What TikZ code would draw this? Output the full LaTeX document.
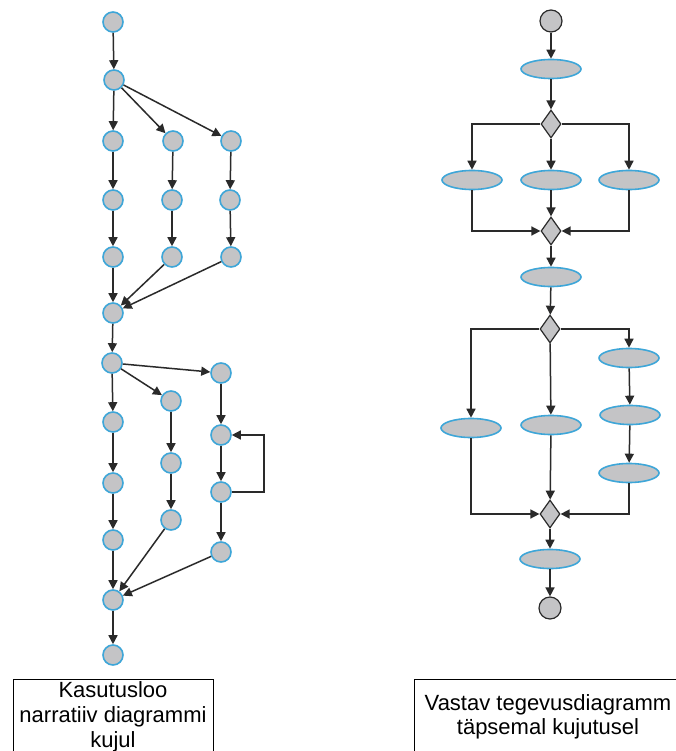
\documentclass[tikz,border=0pt]{standalone}
\usepackage{fontspec}
\setmainfont{Liberation Sans}
\usetikzlibrary{arrows.meta,shapes.geometric}

\definecolor{nodefill}{HTML}{C4C4C6}
\definecolor{nodeblue}{HTML}{3EA6D8}
\definecolor{edgegray}{HTML}{2A2A2A}

\tikzset{
    story/.style={circle, draw=nodeblue, fill=nodefill, line width=1.6pt, minimum size=20pt, inner sep=0pt},
    activity/.style={ellipse, draw=nodeblue, fill=nodefill, line width=1.6pt, minimum width=60pt, minimum height=19pt, inner sep=0pt},
    decision/.style={diamond, draw=edgegray, fill=nodefill, line width=1.2pt, minimum width=20pt, minimum height=28pt, inner sep=0pt},
    terminal/.style={circle, draw=edgegray, fill=nodefill, line width=1.2pt, minimum size=22pt, inner sep=0pt},
    flow/.style={-{Triangle[length=9pt,width=9pt]}, draw=edgegray, line width=1.5pt},
    caption/.style={align=center, inner sep=0pt, anchor=north}
}

\begin{document}
\begin{tikzpicture}[x=1pt,y=-1pt]
        \useasboundingbox (0,0) rectangle (676,751);
        \fill[white] (0,0) rectangle (676,751);

        \node[story] (s0) at (113, 22) {};
        \node[story] (s1) at (114, 80) {};
        \node[story] (a1) at (113, 141) {};
        \node[story] (a2) at (113, 200) {};
        \node[story] (a3) at (113, 257) {};
        \node[story] (b1) at (173, 141) {};
        \node[story] (b2) at (172, 200) {};
        \node[story] (b3) at (172, 257) {};
        \node[story] (c1) at (231, 141) {};
        \node[story] (c2) at (230, 200) {};
        \node[story] (c3) at (231, 257) {};
        \node[story] (m1) at (113, 313) {};

        \node[story] (s2) at (112, 363) {};
        \node[story] (d1) at (113, 422) {};
        \node[story] (d2) at (113, 483) {};
        \node[story] (d3) at (113, 540) {};
        \node[story] (e1) at (171, 401) {};
        \node[story] (e2) at (171, 463) {};
        \node[story] (e3) at (171, 520) {};
        \node[story] (f1) at (221, 373) {};
        \node[story] (f2) at (221, 435) {};
        \node[story] (f3) at (221, 492) {};
        \node[story] (f4) at (221, 552) {};
        \node[story] (m2) at (113, 600) {};
        \node[story] (s3) at (113, 655) {};

        \draw[flow] (s0) -- (s1);
        \draw[flow] (s1) -- (a1);
        \draw[flow] (s1) -- (b1);
        \draw[flow] (s1) -- (c1);
        \draw[flow] (a1) -- (a2);
        \draw[flow] (a2) -- (a3);
        \draw[flow] (a3) -- (m1);
        \draw[flow] (b1) -- (b2);
        \draw[flow] (b2) -- (b3);
        \draw[flow] (b3) -- (m1);
        \draw[flow] (c1) -- (c2);
        \draw[flow] (c2) -- (c3);
        \draw[flow] (c3) -- (m1);
        \draw[flow] (m1) -- (s2);
        \draw[flow] (s2) -- (d1);
        \draw[flow] (s2) -- (e1);
        \draw[flow] (s2) -- (f1);
        \draw[flow] (d1) -- (d2);
        \draw[flow] (d2) -- (d3);
        \draw[flow] (d3) -- (m2);
        \draw[flow] (e1) -- (e2);
        \draw[flow] (e2) -- (e3);
        \draw[flow] (e3) -- (m2);
        \draw[flow] (f1) -- (f2);
        \draw[flow] (f2) -- (f3);
        \draw[flow] (f3) -- (f4);
        \draw[flow] (f3.east) -- ++(32,0) |- (f2.east);
        \draw[flow] (f4) -- (m2);
        \draw[flow] (m2) -- (s3);

        \node[terminal] (t0) at (551, 21) {};
        \node[activity] (r1) at (551, 69) {};
        \node[decision] (g1) at (551, 124) {};
        \node[activity] (r2) at (472, 180) {};
        \node[activity] (r3) at (551, 180) {};
        \node[activity] (r4) at (629, 180) {};
        \node[decision] (g2) at (551, 231) {};
        \node[activity] (r5) at (551, 277) {};
        \node[decision] (g3) at (550, 329) {};
        \node[activity] (r6) at (471, 428) {};
        \node[activity] (r7) at (551, 425) {};
        \node[activity] (r8) at (629, 358) {};
        \node[activity] (r9) at (630, 415) {};
        \node[activity] (r10) at (629, 473) {};
        \node[decision] (g4) at (550, 514) {};
        \node[activity] (r11) at (550, 559) {};
        \node[terminal] (t1) at (550, 608) {};

        \draw[flow] (t0) -- (r1);
        \draw[flow] (r1) -- (g1);
        \draw[flow] (g1.west) -| (r2);
        \draw[flow] (g1) -- (r3);
        \draw[flow] (g1.east) -| (r4);
        \draw[flow] (r2) |- (g2.west);
        \draw[flow] (r3) -- (g2);
        \draw[flow] (r4) |- (g2.east);
        \draw[flow] (g2) -- (r5);
        \draw[flow] (r5) -- (g3);
        \draw[flow] (g3.west) -| (r6);
        \draw[flow] (g3) -- (r7);
        \draw[flow] (g3.east) -| (r8);
        \draw[flow] (r8) -- (r9);
        \draw[flow] (r9) -- (r10);
        \draw[flow] (r6) |- (g4.west);
        \draw[flow] (r7) -- (g4);
        \draw[flow] (r10) |- (g4.east);
        \draw[flow] (g4) -- (r11);
        \draw[flow] (r11) -- (t1);

        \draw[line width=1pt] (13, 751) |- (213, 679) -- (213, 751);
        \node[caption, font=\fontsize{22}{25}\selectfont] (storycap) at (113, 681) {Kasutusloo\\narratiiv diagrammi\\kujul};
        \draw[line width=1pt] (414, 751) |- (677, 679);
        \node[caption, font=\fontsize{22}{24}\selectfont] (flowcap) at (548, 694) {Vastav tegevusdiagramm\\täpsemal kujutusel};
    \end{tikzpicture}
\end{document}
